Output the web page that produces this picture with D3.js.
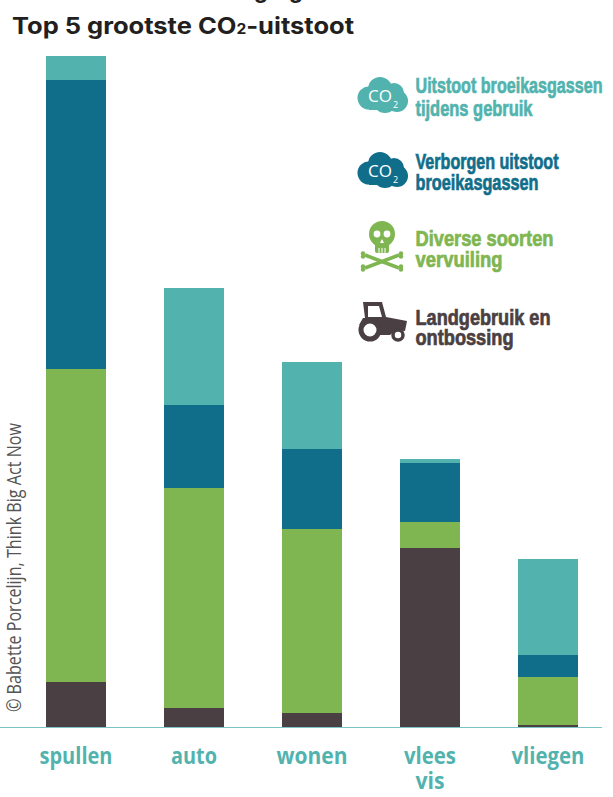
<!DOCTYPE html>
<html>
<head>
<meta charset="utf-8">
<script src="https://cdnjs.cloudflare.com/ajax/libs/d3/7.8.5/d3.min.js"></script>
<style>
  html, body { margin: 0; padding: 0; background: #fff; }
  svg { display: block; }
</style>
</head>
<body>
<div id="chart"></div>
<script>
// values (no unit on the original, so roughly pixels of bar height)
const categories = ["spullen", "auto", "wonen", "vlees", "vliegen"];
const seriesNames = ["land", "vervuiling", "verborgen", "gebruik"];
const land = [45, 19, 14, 179, 2];
const vervuiling = [313, 220, 184, 26, 48];
const verborgen = [289, 83, 80, 59, 22];
const gebruik = [24, 117, 87, 4, 96];
const colors = ["#4a3f42", "#80b651", "#116e8b", "#52b3ae"];
const yMax = 671;

const legendLines = [
  ["Uitstoot broeikasgassen", "tijdens gebruik"],
  ["Verborgen uitstoot", "broeikasgassen"],
  ["Diverse soorten", "vervuiling"],
  ["Landgebruik en", "ontbossing"]
];
const legendColors = ["#52b3ae", "#116e8b", "#80b651", "#4a3f42"];

const width = 613, height = 797;
const svg = d3.select("#chart").append("svg").attr("width", width).attr("height", height);

const rows = categories.map((c, i) => ({
  cat: c, land: land[i], vervuiling: vervuiling[i], verborgen: verborgen[i], gebruik: gebruik[i]
}));

const x = d3.scaleBand().domain(categories).range([16.5, 607.5]).paddingInner(0.4915).paddingOuter(0.25);
const y = d3.scaleLinear().domain([0, yMax]).range([727, 56]);

// clipped line of the page above the title, only the descenders show
svg.append("text").attr("x", 254).attr("y", -2).attr("font-family", "Inter").attr("font-weight", 700)
  .attr("font-size", 22).attr("fill", "#231f20").text("g");
svg.append("text").attr("x", 289).attr("y", -2).attr("font-family", "Inter").attr("font-weight", 700)
  .attr("font-size", 22).attr("fill", "#231f20").text("g");

const title = svg.append("text")
  .attr("x", 12).attr("y", 34)
  .attr("font-family", "Inter").attr("font-weight", 700).attr("font-size", 23)
  .attr("fill", "#231f20")
  .attr("textLength", 342).attr("lengthAdjust", "spacingAndGlyphs");
title.append("tspan").text("Top 5 grootste CO");
title.append("tspan").attr("font-size", 14).text("2");
title.append("tspan").text("-uitstoot");

// stacked bars
const stacked = d3.stack().keys(seriesNames)(rows);
svg.append("g").selectAll("g").data(stacked).join("g")
  .attr("fill", (d, i) => colors[i])
  .selectAll("rect").data(d => d).join("rect")
  .attr("x", d => x(d.data.cat))
  .attr("y", d => y(d[1]))
  .attr("width", x.bandwidth())
  .attr("height", d => y(d[0]) - y(d[1]));

// axis
const axis = svg.append("g").attr("transform", "translate(0,727)")
  .call(d3.axisBottom(x).tickSize(0).tickFormat(""));
axis.select(".domain").attr("stroke", "#7cc4c4").attr("stroke-width", 1.2).attr("d", "M0,0.5H602");

const tickWidths = { spullen: 73, auto: 46, wonen: 71, vlees: 52, vliegen: 73 };
axis.selectAll(".tick").append("text")
  .attr("y", 37)
  .attr("text-anchor", "middle")
  .attr("font-family", "'Open Sans'").attr("font-weight", 700).attr("font-size", 23)
  .attr("fill", "#52b3ae")
  .attr("textLength", d => tickWidths[d]).attr("lengthAdjust", "spacingAndGlyphs")
  .text(d => d);
axis.selectAll(".tick").filter(d => d === "vlees").append("text")
  .attr("y", 62)
  .attr("text-anchor", "middle")
  .attr("font-family", "'Open Sans'").attr("font-weight", 700).attr("font-size", 23)
  .attr("fill", "#52b3ae")
  .attr("textLength", 29).attr("lengthAdjust", "spacingAndGlyphs")
  .text("vis");

// credit along the left edge
svg.append("text")
  .attr("transform", "translate(21,712) rotate(-90)")
  .attr("font-family", "'Open Sans'").attr("font-weight", 400).attr("font-size", 20)
  .attr("fill", "#555")
  .attr("textLength", 289).attr("lengthAdjust", "spacingAndGlyphs")
  .text("© Babette Porcelijn, Think Big Act Now");

// legend text
const legendBase = [[93, 116], [169, 190], [246, 267], [325, 345]];
const legendLen = [[187, 117], [143, 123], [138, 87], [135, 98]];
const legend = svg.append("g");
legendLines.forEach((lines, i) => {
  lines.forEach((t, j) => {
    legend.append("text")
      .attr("x", 415.5).attr("y", legendBase[i][j])
      .attr("font-family", "'Liberation Sans Narrow', 'Liberation Sans'")
      .attr("font-weight", 700).attr("font-size", 22)
      .attr("fill", legendColors[i])
      .attr("stroke", legendColors[i]).attr("stroke-width", 0.7)
      .attr("textLength", legendLen[i][j]).attr("lengthAdjust", "spacingAndGlyphs")
      .text(t);
  });
});

// cloud icon
function cloud(cx, cy, color) {
  const g = svg.append("g").attr("transform", `translate(${cx},${cy})`).attr("fill", color);
  [[-14, 3, 11.5], [-3, -6, 12], [11, -2, 10], [14, 6, 11], [2, 6, 12]].forEach(c => {
    g.append("circle").attr("cx", c[0]).attr("cy", c[1]).attr("r", c[2]);
  });
  g.append("rect").attr("x", -14).attr("y", 2).attr("width", 28).attr("height", 13);
  g.append("text").attr("x", -15).attr("y", 7).attr("font-family", "'Open Sans'").attr("font-size", 17)
    .attr("fill", "#fff").text("CO");
  g.append("text").attr("x", 10).attr("y", 13).attr("font-family", "'Open Sans'").attr("font-size", 9)
    .attr("fill", "#fff").text("2");
}
cloud(383, 95, legendColors[0]);
cloud(383, 170, legendColors[1]);

// skull and crossbones
const skull = svg.append("g").attr("transform", "translate(382,246)").attr("fill", legendColors[2]);
skull.append("circle").attr("cy", -12).attr("r", 13);
skull.append("rect").attr("x", -7).attr("y", -3).attr("width", 14).attr("height", 10).attr("rx", 2);
[[-5, -12], [5, -12]].forEach(e => {
  skull.append("circle").attr("cx", e[0]).attr("cy", e[1]).attr("r", 3.4).attr("fill", "#fff");
});
skull.append("path").attr("d", "M0,-7L2,-3H-2Z").attr("fill", "#fff");
[-3, 0, 3].forEach(t => {
  skull.append("rect").attr("x", t - 0.5).attr("y", 2).attr("width", 1).attr("height", 5).attr("fill", "#fff");
});
[[-17, 9, 17, 22], [17, 9, -17, 22]].forEach(b => {
  skull.append("line").attr("x1", b[0]).attr("y1", b[1]).attr("x2", b[2]).attr("y2", b[3])
    .attr("stroke", legendColors[2]).attr("stroke-width", 3.5);
  [[b[0], b[1]], [b[2], b[3]]].forEach(p => {
    skull.append("circle").attr("cx", p[0] + (p[0] < 0 ? -2 : 2)).attr("cy", p[1] - 1.5).attr("r", 2.2);
    skull.append("circle").attr("cx", p[0] + (p[0] < 0 ? -2 : 2)).attr("cy", p[1] + 1.5).attr("r", 2.2);
  });
});

// tractor
const tractor = svg.append("g").attr("transform", "translate(358,302)").attr("fill", legendColors[3]);
tractor.append("path").attr("d", "M5,0H24L28,15L49,19L47,29L38,28L32,33H20L14,22L1,23L5,16H7Z M10,4V15H24L21,4Z").attr("fill-rule", "evenodd");
tractor.append("circle").attr("cx", 12).attr("cy", 28).attr("r", 9).attr("fill", "#fff").attr("stroke", legendColors[3]).attr("stroke-width", 5);
tractor.append("circle").attr("cx", 40).attr("cy", 33).attr("r", 5).attr("fill", "#fff").attr("stroke", legendColors[3]).attr("stroke-width", 3.5);
</script>
</body>
</html>
